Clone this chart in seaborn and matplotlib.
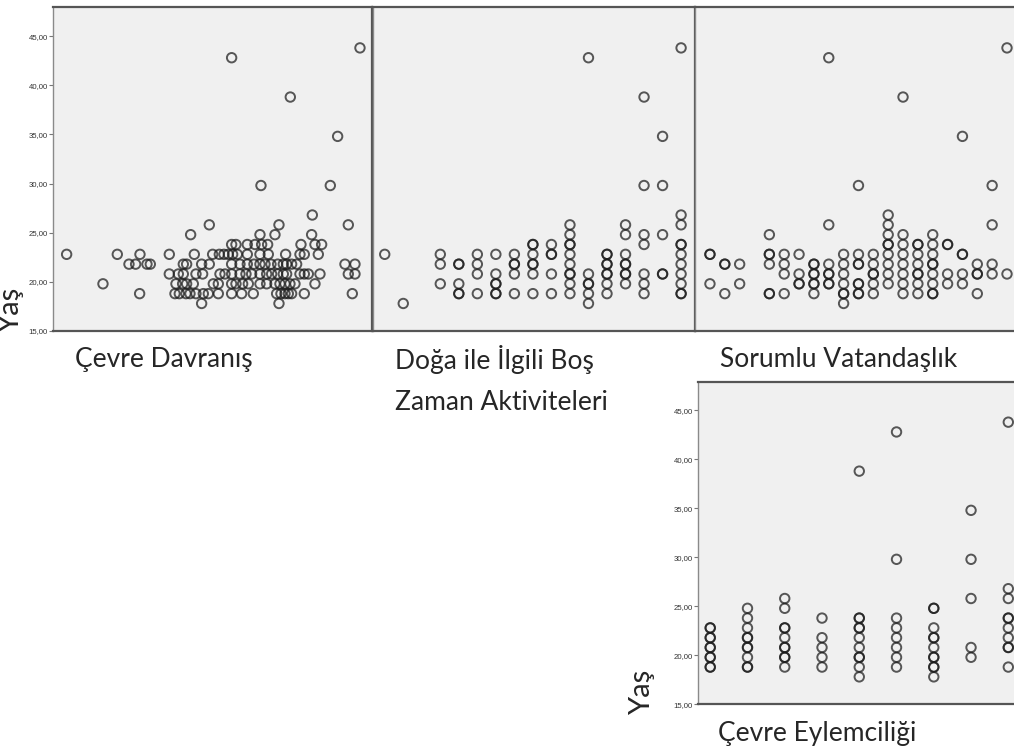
import pandas as pd
import matplotlib
matplotlib.use("Agg")
import matplotlib.pyplot as plt
import seaborn as sns

# -----------------------------
# Veri (Yaş değerleri ve puanlar)
# -----------------------------
# Çevre Davranış: yaş -> puan listesi
davranis_by_age = {
    43.8: [108.0],
    42.8: [69.5],
    38.8: [87.1],
    34.8: [101.3],
    29.8: [78.3, 99.1],
    26.8: [93.7],
    25.8: [62.8, 83.7, 104.5],
    24.8: [57.2, 78.0, 82.5, 93.5],
    23.8: [69.5, 70.8, 74.2, 76.5, 78.5, 80.3, 90.3, 94.5, 96.5],
    22.8: [20.0, 35.2, 42.0, 50.8, 58.3, 63.8, 65.8, 67.2, 68.5, 69.8, 71.2,
           74.2, 78.0, 80.5, 85.7, 90.0, 91.3, 95.5],
    21.8: [38.7, 40.7, 44.1, 45.1, 55.0, 56.0, 60.5, 62.8, 69.5, 72.0, 74.2,
           76.2, 78.0, 79.5, 81.3, 83.3, 85.0, 86.0, 87.5, 89.0, 103.5, 106.5],
    20.8: [50.8, 53.5, 55.0, 58.8, 60.8, 66.0, 67.5, 69.5, 72.0, 73.8, 75.5,
           78.0, 80.0, 81.5, 83.3, 85.0, 86.0, 90.0, 91.3, 92.5, 96.0, 104.5, 106.5],
    19.8: [30.9, 52.8, 54.8, 56.0, 58.0, 64.0, 65.5, 69.5, 70.8, 72.8, 74.5,
           78.0, 80.0, 82.5, 84.0, 85.5, 87.0, 88.5, 94.5],
    18.8: [41.9, 52.5, 53.8, 55.8, 57.0, 58.8, 61.0, 62.5, 65.5, 69.5, 72.5,
           76.0, 83.0, 84.3, 85.5, 86.5, 87.5, 91.3, 105.7],
    17.8: [60.5, 83.7],
}

# Doğa ile İlgili Boş Zaman Aktiviteleri: puan -> yaş listesi
doga_by_score = {
    4: [22.8],
    5: [17.8],
    7: [22.8, 21.8, 19.8],
    8: [21.8, 21.8, 19.8, 18.8, 18.8],
    9: [22.8, 21.8, 20.8, 18.8],
    10: [22.8, 20.8, 19.8, 19.8, 18.8, 18.8],
    11: [22.8, 21.8, 21.8, 20.8, 18.8],
    12: [23.8, 23.8, 22.8, 21.8, 21.8, 20.8, 18.8],
    13: [23.8, 22.8, 22.8, 20.8, 18.8],
    14: [25.8, 24.8, 23.8, 23.8, 22.8, 21.8, 20.8, 20.8, 19.8, 18.8],
    15: [42.8, 20.8, 19.8, 19.8, 18.8, 17.8],
    16: [22.8, 22.8, 21.8, 21.8, 20.8, 20.8, 19.8, 18.8],
    17: [25.8, 24.8, 22.8, 21.8, 21.8, 20.8, 20.8, 19.8],
    18: [38.8, 29.8, 24.8, 23.8, 20.8, 19.8, 18.8],
    19: [34.8, 29.8, 24.8, 20.8, 20.8],
    20: [43.8, 26.8, 25.8, 23.8, 23.8, 22.8, 21.8, 20.8, 19.8, 18.8, 18.8],
}

# Sorumlu Vatandaşlık: puan -> yaş listesi
vatandaslik_by_score = {
    5: [22.8, 22.8, 19.8],
    6: [21.8, 21.8, 18.8],
    7: [21.8, 19.8],
    9: [24.8, 22.8, 22.8, 21.8, 18.8, 18.8],
    10: [22.8, 21.8, 20.8, 18.8],
    11: [22.8, 20.8, 19.8, 19.8],
    12: [21.8, 21.8, 20.8, 20.8, 19.8, 19.8, 18.8],
    13: [42.8, 25.8, 21.8, 20.8, 20.8, 19.8, 19.8],
    14: [22.8, 21.8, 20.8, 19.8, 18.8, 18.8, 17.8],
    15: [29.8, 22.8, 21.8, 21.8, 19.8, 19.8, 18.8, 18.8],
    16: [22.8, 21.8, 20.8, 20.8, 19.8, 18.8],
    17: [26.8, 25.8, 24.8, 23.8, 23.8, 22.8, 21.8, 20.8, 19.8],
    18: [38.8, 24.8, 23.8, 22.8, 21.8, 20.8, 19.8, 18.8],
    19: [23.8, 23.8, 22.8, 21.8, 20.8, 20.8, 19.8, 18.8],
    20: [24.8, 23.8, 22.8, 21.8, 21.8, 20.8, 19.8, 18.8, 18.8],
    21: [23.8, 23.8, 20.8, 19.8],
    22: [34.8, 22.8, 22.8, 20.8, 19.8],
    23: [21.8, 20.8, 20.8, 18.8],
    24: [29.8, 25.8, 21.8, 20.8],
    25: [43.8, 20.8],
}

# Çevre Eylemciliği: puan -> yaş listesi
eylem_by_score = {
    3: [22.8, 22.8, 21.8, 21.8, 20.8, 20.8, 19.8, 19.8, 18.8, 18.8],
    4: [24.8, 23.8, 22.8, 21.8, 21.8, 20.8, 20.8, 19.8, 18.8, 18.8],
    5: [25.8, 24.8, 22.8, 22.8, 21.8, 20.8, 20.8, 19.8, 19.8, 18.8],
    6: [23.8, 21.8, 20.8, 19.8, 18.8],
    7: [38.8, 23.8, 23.8, 22.8, 22.8, 21.8, 20.8, 19.8, 19.8, 18.8, 17.8],
    8: [42.8, 29.8, 23.8, 22.8, 21.8, 20.8, 19.8, 18.8],
    9: [24.8, 24.8, 22.8, 21.8, 21.8, 20.8, 19.8, 19.8, 18.8, 18.8, 17.8],
    10: [34.8, 29.8, 25.8, 20.8, 19.8],
    11: [43.8, 26.8, 25.8, 23.8, 23.8, 22.8, 21.8, 20.8, 20.8, 18.8],
}

yas_ticks = [15, 20, 25, 30, 35, 40, 45]
yas_ticklabels = ["15,00", "20,00", "25,00", "30,00", "35,00", "40,00", "45,00"]


def by_age_frame(d):
    rows = [(x, yas) for yas, xs in d.items() for x in xs]
    return pd.DataFrame(rows, columns=["puan", "yas"])


def by_score_frame(d):
    rows = [(x, yas) for x, ages in d.items() for yas in ages]
    return pd.DataFrame(rows, columns=["puan", "yas"])


df_davranis = by_age_frame(davranis_by_age)
df_doga = by_score_frame(doga_by_score)
df_vatandas = by_score_frame(vatandaslik_by_score)
df_eylem = by_score_frame(eylem_by_score)

# -----------------------------
# Grafik
# -----------------------------
sns.set_style("white")
label_font = ["Lato", "DejaVu Sans"]
W, H = 1014, 751
fig = plt.figure(figsize=(W / 100, H / 100), dpi=100)


def px_axes(left, top, width, height):
    return fig.add_axes([left / W, 1 - (top + height) / H, width / W, height / H])


panels = [
    (px_axes(53.3, 7.3, 319, 323.7), df_davranis, (16.0, 111.7), True),
    (px_axes(372.5, 7.3, 322.3, 323.7), df_doga, (3.34, 20.74), False),
    (px_axes(694.5, 7.3, 322.3, 323.7), df_vatandas, (3.96, 25.66), False),
    (px_axes(698.3, 381.7, 322.3, 322.6), df_eylem, (2.68, 11.33), True),
]

for ax, data, xlim, show_y in panels:
    ax.set_facecolor("#f0f0f0")
    sns.scatterplot(data=data, x="puan", y="yas", ax=ax, marker="o", s=46,
                    facecolors="none", edgecolor="#1a1a1a", linewidth=1.4,
                    alpha=0.72, legend=False)
    ax.set_xlim(*xlim)
    ax.set_ylim(15, 47.93)
    ax.set_xticks([])
    ax.set_xlabel("")
    ax.set_ylabel("")
    for side, sp in ax.spines.items():
        sp.set_color("#555555")
        sp.set_linewidth(1.6)
    ax.spines["left"].set_color("#8a8a8a")
    ax.spines["left"].set_linewidth(1.0)
    if show_y:
        ax.set_yticks(yas_ticks)
        ax.set_yticklabels(yas_ticklabels, fontsize=5.6, family="Liberation Sans",
                           color="#333333")
        ax.tick_params(axis="y", direction="out", length=3, width=0.8,
                       color="#777777", pad=1, left=True)
    else:
        ax.set_yticks([])

# Değişken adları
fs = 19
fig.text(75 / W, 1 - 360 / H, "Çevre Davranış", fontsize=fs, family=label_font, va="center")
fig.text(395 / W, 1 - 360 / H, "Doğa ile İlgili Boş", fontsize=fs, family=label_font, va="center")
fig.text(395 / W, 1 - 403 / H, "Zaman Aktiviteleri", fontsize=fs, family=label_font, va="center")
fig.text(720 / W, 1 - 360 / H, "Sorumlu Vatandaşlık", fontsize=fs, family=label_font, va="center")
fig.text(718 / W, 1 - 733 / H, "Çevre Eylemciliği", fontsize=fs, family=label_font, va="center")
fig.text(11 / W, 1 - 310 / H, "Yaş", fontsize=21, family=label_font, rotation=90,
         ha="center", va="center")
fig.text(642 / W, 1 - 692 / H, "Yaş", fontsize=21, family=label_font, rotation=90,
         ha="center", va="center")

plt.savefig("out.png", dpi=100)
